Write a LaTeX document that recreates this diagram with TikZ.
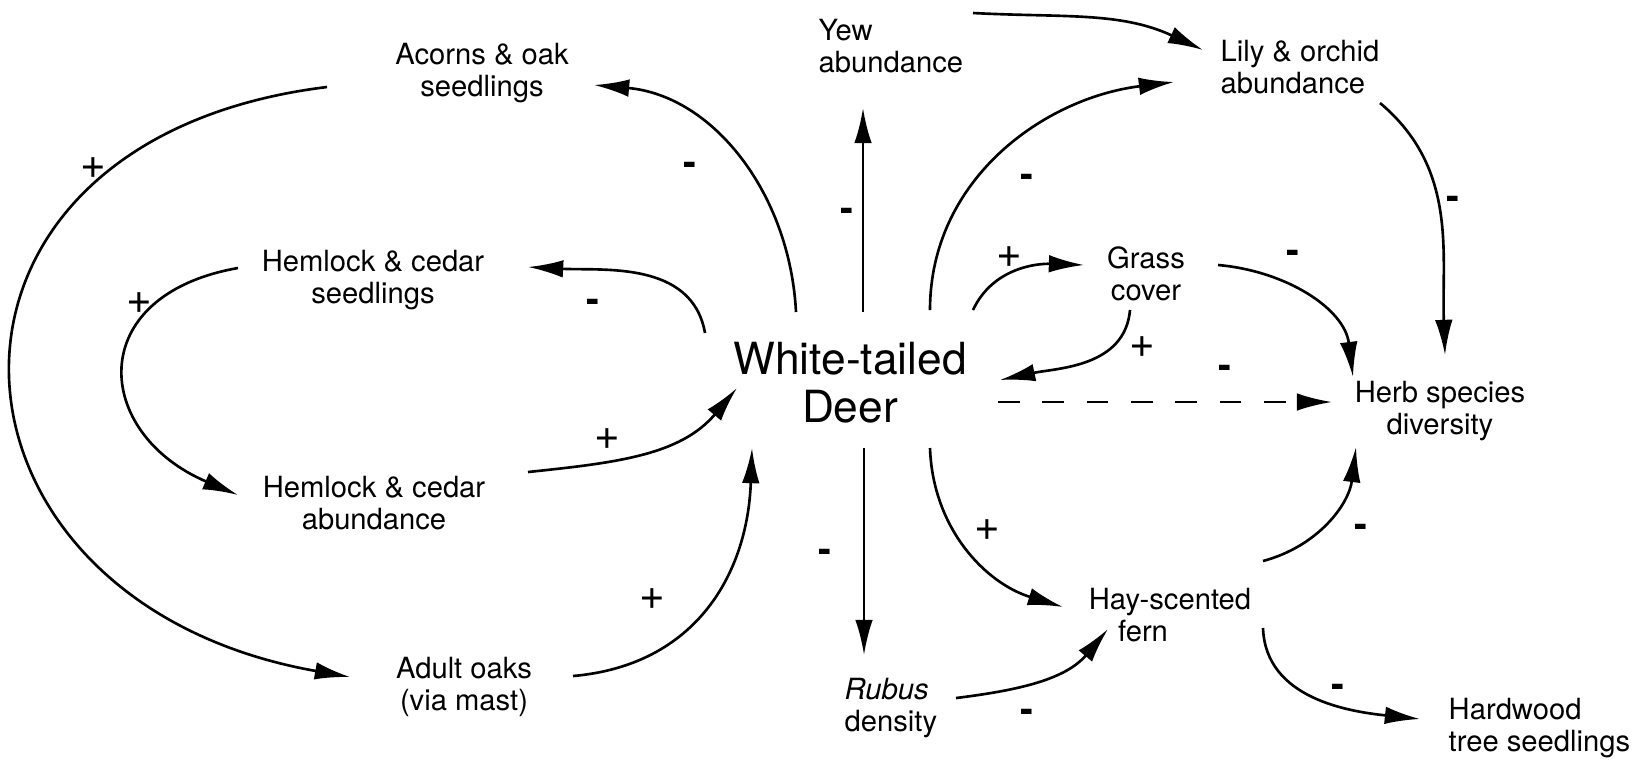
\documentclass[tikz,border=0pt]{standalone}
\usepackage{fontspec}
\setmainfont{TeX Gyre Heros}
\usetikzlibrary{arrows.meta, calc}

\begin{document}
\begin{tikzpicture}[
      x=0.01cm, y=0.01cm,
      lbl/.style={inner sep=0pt, align=center, font=\fontsize{8.3}{9.1}\selectfont},
      lftlbl/.style={lbl, align=left, anchor=west},
      sgn/.style={inner sep=0pt, font=\fontsize{12.5}{12.5}\selectfont},
      sgnm/.style={sgn, font=\fontsize{11}{11}\selectfont\bfseries, yshift=-1.1pt},
      arr/.style={-{Latex[length=10pt, width=5pt]}, line width=0.75pt}
    ]
      \useasboundingbox (0,0) rectangle (1637,-760);

      \node[lbl, font=\fontsize{12.6}{13.6}\selectfont] (deer) at (850,-383) {White-tailed\\Deer};
      \node[lbl] (acorns) at (482,-73) {Acorns \& oak\\seedlings};
      \node[lftlbl] (yew) at (818,-46) {Yew\\abundance};
      \node[lftlbl] (lily) at (1220,-67) {Lily \& orchid\\abundance};
      \node[lbl] (hemseed) at (373,-280) {Hemlock \& cedar\\seedlings};
      \node[lbl] (grass) at (1146,-274) {Grass\\cover};
      \node[lbl] (herb) at (1440,-411) {Herb species\\diversity};
      \node[lbl] (hemab) at (374,-503) {Hemlock \& cedar\\abundance};
      \node[lbl] (hay) at (1170,-615) {Hay-scented\\fern\hspace*{0.54cm}};
      \node[lbl] (adult) at (464,-687) {Adult oaks\\(via mast)};
      \node[lftlbl] (rubus) at (844,-708) {\textit{Rubus}\\density};
      \node[lftlbl] (hard) at (1448,-728) {Hardwood\\tree seedlings};

      \draw[arr] ($(deer.center)+(-54,71)$) to[out=93, in=-5] ($(acorns.center)+(112,-12)$)
        node[sgnm] at (690,-165) {-};
      \draw[arr] ($(acorns.center)+(-155,-14)$) to[out=187, in=170, looseness=1.9] ($(adult.center)+(-114,10)$)
        node[sgn] at (93,-168) {+};
      \draw[arr] ($(deer.center)+(-145,50)$) to[out=100, in=-3] ($(hemseed.center)+(155,13)$)
        node[sgnm] at (593,-302) {-};
      \draw[arr] ($(hemseed.center)+(-135,12)$) to[out=190, in=157, looseness=1.78] ($(hemab.center)+(-136,8)$)
        node[sgn] at (139,-303) {+};
      \draw[arr] ($(hemab.center)+(154,31)$) to[out=6, in=230] ($(deer.center)+(-113,-5)$)
        node[sgn] at (607,-439) {+};
      \draw[arr] ($(adult.center)+(109,11)$) to[out=5, in=268, looseness=1.1] ($(deer.center)+(-98,-65)$)
        node[sgn] at (652,-599) {+};
      \draw[arr] ($(deer.center)+(13,71)$) -- ($(yew.west)+(45,-62)$)
        node[sgnm] at (847,-211) {-};
      \draw[arr] ($(yew.west)+(155,33)$) to[out=-3, in=155] ($(lily.west)+(-17,17)$);
      \draw[arr] ($(deer.center)+(80,73)$) to[out=90, in=187] ($(lily.west)+(-46,-15)$)
        node[sgnm] at (1027,-177) {-};
      \draw[arr] ($(lily.west)+(160,-36)$) to[out=-40, in=92] ($(herb.center)+(5,56)$)
        node[sgnm] at (1453,-199) {-};
      \draw[arr] ($(deer.center)+(123,73)$) to[out=65, in=178] ($(grass.center)+(-62,9)$)
        node[sgn] at (1009,-257) {+};
      \draw[arr] ($(grass.center)+(-16,-36)$) to[out=-95, in=12] ($(deer.center)+(150,3)$)
        node[sgn] at (1142,-347) {+};
      \draw[arr] ($(grass.center)+(72,9)$) to[out=-5, in=97] ($(herb.center)+(-87,34)$)
        node[sgnm] at (1293,-253) {-};
      \draw[arr, dash pattern=on 6.2pt off 6.4pt] ($(deer.center)+(148,-19)$) -- ($(herb.center)+(-108,9)$)
        node[sgnm] at (1225,-368) {-};
      \draw[arr] ($(deer.center)+(14,-65)$) -- ($(rubus.west)+(20,53)$)
        node[sgnm] at (825,-552) {-};
      \draw[arr] ($(deer.center)+(80,-65)$) to[out=-88, in=163] ($(hay.center)+(-107,8)$)
        node[sgn] at (987,-530) {+};
      \draw[arr] ($(rubus.west)+(112,10)$) to[out=7, in=230] ($(hay.center)+(-62,-14)$)
        node[sgnm] at (1027,-712) {-};
      \draw[arr] ($(hay.center)+(93,54)$) to[out=15, in=263] ($(herb.center)+(-84,-36)$)
        node[sgnm] at (1361,-527) {-};
      \draw[arr] ($(hay.center)+(93,-13)$) to[out=-88, in=174] ($(hard.west)+(-28,9)$)
        node[sgnm] at (1338,-687) {-};
\end{tikzpicture}
\end{document}
